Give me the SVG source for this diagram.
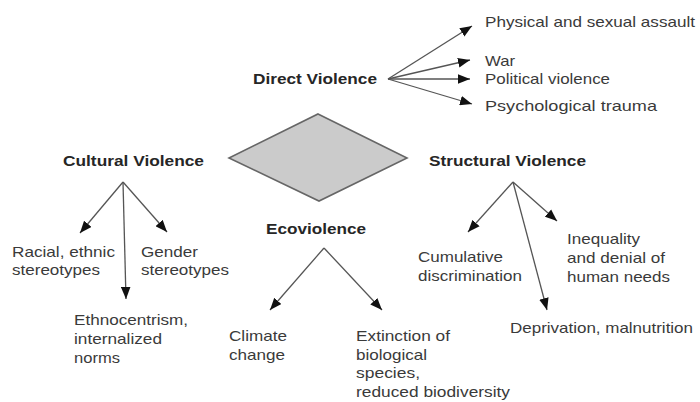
<svg xmlns="http://www.w3.org/2000/svg" width="700" height="402" viewBox="0 0 700 402">
<style>
text{font-family:"Liberation Sans",Arial,sans-serif;font-size:15px;fill:#3a3a3a}
.h{font-weight:bold;fill:#262626}
.c line{stroke:#555;stroke-width:1.3;marker-end:url(#ah)}
</style>
<defs>
<marker id="ah" markerUnits="userSpaceOnUse" markerWidth="12" markerHeight="10" viewBox="0 0 10 8" refX="10" refY="4" orient="auto">
<path d="M0,0 L10,4 L0,8 Z" fill="#111"/>
</marker>
</defs>
<rect width="700" height="402" fill="#fff"/>
<g id="diamond"><polygon points="318,114 407,158 319,201 229,158" fill="#cbcbcb" stroke="#666" stroke-width="1.6"/></g>
<g class="c" id="connectors">
<line x1="388" y1="79" x2="472" y2="26"/>
<line x1="388" y1="79" x2="470" y2="60"/>
<line x1="388" y1="79" x2="470" y2="79"/>
<line x1="388" y1="79" x2="472" y2="104"/>
<line x1="123" y1="182" x2="80" y2="233"/>
<line x1="123" y1="182" x2="167" y2="232"/>
<line x1="123" y1="182" x2="126" y2="299"/>
<line x1="324" y1="248" x2="270" y2="310"/>
<line x1="324" y1="248" x2="382" y2="310"/>
<line x1="513" y1="182" x2="468" y2="232"/>
<line x1="513" y1="182" x2="557" y2="221"/>
<line x1="513" y1="182" x2="547" y2="310"/>
</g>
<g id="direct">
<text class="h" x="253" y="84" textLength="124" lengthAdjust="spacingAndGlyphs">Direct Violence</text>
</g>
<g id="physical"><text x="485" y="27" textLength="210" lengthAdjust="spacingAndGlyphs">Physical and sexual assault</text></g>
<g id="war"><text x="485" y="66" textLength="30" lengthAdjust="spacingAndGlyphs">War</text></g>
<g id="political"><text x="485" y="84" textLength="125" lengthAdjust="spacingAndGlyphs">Political violence</text></g>
<g id="psych"><text x="485" y="111" textLength="172" lengthAdjust="spacingAndGlyphs">Psychological trauma</text></g>
<g id="cultural"><text class="h" x="63" y="166" textLength="141" lengthAdjust="spacingAndGlyphs">Cultural Violence</text></g>
<g id="racial">
<text x="12" y="257" textLength="103" lengthAdjust="spacingAndGlyphs">Racial, ethnic</text>
<text x="12" y="275" textLength="88" lengthAdjust="spacingAndGlyphs">stereotypes</text>
</g>
<g id="gender">
<text x="141" y="257" textLength="57" lengthAdjust="spacingAndGlyphs">Gender</text>
<text x="141" y="275" textLength="88" lengthAdjust="spacingAndGlyphs">stereotypes</text>
</g>
<g id="ethno">
<text x="74" y="325" textLength="114" lengthAdjust="spacingAndGlyphs">Ethnocentrism,</text>
<text x="74" y="344" textLength="88" lengthAdjust="spacingAndGlyphs">internalized</text>
<text x="74" y="363" textLength="46" lengthAdjust="spacingAndGlyphs">norms</text>
</g>
<g id="eco"><text class="h" x="266" y="234" textLength="100" lengthAdjust="spacingAndGlyphs">Ecoviolence</text></g>
<g id="climate">
<text x="229" y="341" textLength="58" lengthAdjust="spacingAndGlyphs">Climate</text>
<text x="229" y="360" textLength="56" lengthAdjust="spacingAndGlyphs">change</text>
</g>
<g id="extinction">
<text x="356" y="341" textLength="94" lengthAdjust="spacingAndGlyphs">Extinction of</text>
<text x="356" y="360" textLength="71" lengthAdjust="spacingAndGlyphs">biological</text>
<text x="356" y="378" textLength="64" lengthAdjust="spacingAndGlyphs">species,</text>
<text x="356" y="397" textLength="154" lengthAdjust="spacingAndGlyphs">reduced biodiversity</text>
</g>
<g id="structural"><text class="h" x="429" y="166" textLength="157" lengthAdjust="spacingAndGlyphs">Structural Violence</text></g>
<g id="cumulative">
<text x="418" y="262" textLength="85" lengthAdjust="spacingAndGlyphs">Cumulative</text>
<text x="418" y="281" textLength="104" lengthAdjust="spacingAndGlyphs">discrimination</text>
</g>
<g id="inequality">
<text x="567" y="244" textLength="73" lengthAdjust="spacingAndGlyphs">Inequality</text>
<text x="567" y="263" textLength="98" lengthAdjust="spacingAndGlyphs">and denial of</text>
<text x="567" y="282" textLength="103" lengthAdjust="spacingAndGlyphs">human needs</text>
</g>
<g id="deprivation"><text x="510" y="333" textLength="183" lengthAdjust="spacingAndGlyphs">Deprivation, malnutrition</text></g>
</svg>
